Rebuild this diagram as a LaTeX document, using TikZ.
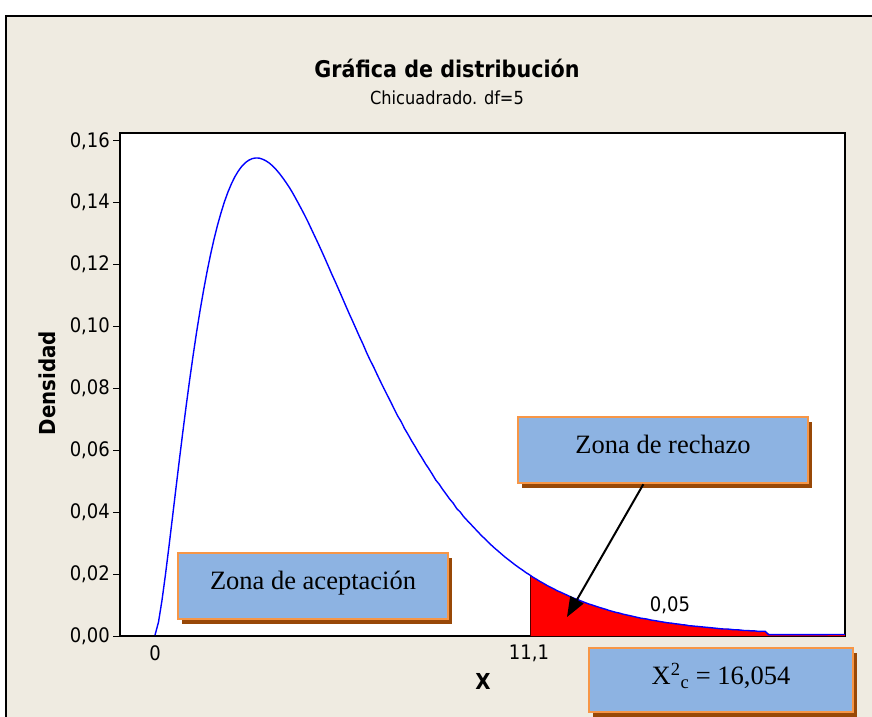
\documentclass[tikz,border=0pt]{standalone}
\usepackage{fontspec}
\setmainfont{DejaVu Sans Condensed}
\newfontfamily\boxfont{Liberation Serif}
\usetikzlibrary{arrows.meta,shadows}
\definecolor{panel}{HTML}{EFEBE1}
\definecolor{zonefill}{HTML}{8DB3E2}
\definecolor{zoneline}{HTML}{F79646}
\definecolor{zoneshadow}{HTML}{984807}

\begin{document}
\begin{tikzpicture} [
    x = 1pt, y = -1pt,
    declare function = {chi(\t) = \t^1.5*exp(-\t/2)/7.52;},
    zone/.style = {rectangle, draw=zoneline, line width=2.5pt, fill=zonefill,
    inner sep=0pt, text depth=12pt, font=\boxfont\fontsize{26.5}{30}\selectfont,
    drop shadow={shadow xshift=4pt, shadow yshift=-5pt, fill=zoneshadow, opacity=1}},
    lab/.style = {font=\fontsize{20}{24}\selectfont, inner sep=1pt},
    bold/.style = {font=\fontsize{22}{26}\selectfont\bfseries},
    arrow/.style = {draw, line width=2pt, -{Triangle[length=20pt,width=15pt]}}
    ]
    \useasboundingbox (0,0) rectangle (872,716);
    \fill[white] (0,0) rectangle (872,716);
    \filldraw[fill=panel, line width=1.2pt] (6,16) rectangle (890,740);

    \node[font=\fontsize{23}{27}\selectfont\bfseries] (title) at (447,68) {Gráfica de distribución};
    \node[font=\fontsize{18}{22}\selectfont] (subtitle) at (447,98) {Chicuadrado. df=5};

    % plot area
    \filldraw[fill=white, line width=1.2pt] (120,133) rectangle (845,636);
    \foreach \v/\t in {0/{0,00}, 1/{0,02}, 2/{0,04}, 3/{0,06}, 4/{0,08}, 5/{0,10}, 6/{0,12}, 7/{0,14}, 8/{0,16}} {
        \draw[line width=1pt] (113,636-61.9*\v) -- (120,636-61.9*\v);
        \node[lab, anchor=east] (ylab\v) at (111,636-61.9*\v) {\t};
    }
    \node[lab] (xlab0) at (155,653) {0};
    \node[lab] (xlabc) at (529,653) {11,1};
    \node[bold] (xname) at (483,681) {X};
    \node[bold, rotate=90] (yname) at (47,383) {Densidad};

    \begin{scope}[shift={(155,636)}, x=33.9pt, y=3095pt]
        \fill[red] (11.07,0) -- plot[domain=11.07:20.35, samples=60] ({\x},{chi(\x)+0.0003}) -- (20.35,0) -- cycle;
        \draw[black!70!red, line width=1.2pt] (11.07,0) -- (11.07,{chi(11.07)});
        \draw[blue, line width=1.4pt] plot[domain=0.001:20.35, samples=200] ({\x},{chi(\x)+0.0003});
    \end{scope}

    \node[lab] (alpha) at (670,605) {0,05};

    \node[zone, minimum width=290pt, minimum height=66pt] (rech) at (663,450) {Zona de rechazo};
    \node[zone, minimum width=270pt, minimum height=66pt] (acep) at (313,586) {Zona de aceptación};
    \node[zone, minimum width=264pt, minimum height=64pt] (chic) at (721,680)
        {X\textsuperscript{2}\textsubscript{c} = 16,054};

    \coordinate (tip) at (567,617);
    \draw[arrow] (rech) -- (tip);
\end{tikzpicture}
\end{document}
